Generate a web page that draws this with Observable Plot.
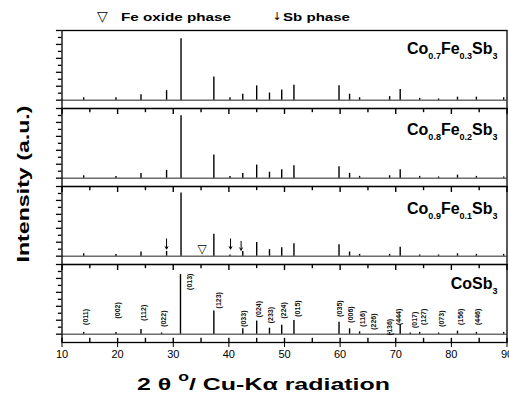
<!DOCTYPE html>
<html><head><meta charset="utf-8">
<script src="https://cdn.jsdelivr.net/npm/d3@7"></script>
<script src="https://cdn.jsdelivr.net/npm/@observablehq/plot@0.6"></script>
<style>
body{margin:0;background:#fff;}
#chart{width:509px;height:403px;overflow:hidden;}
</style></head><body><div id="chart"></div>
<script>
// ---- data ----
const panels = ["Co0.7Fe0.3Sb3", "Co0.8Fe0.2Sb3", "Co0.9Fe0.1Sb3", "CoSb3"];
const panelLabels = ["Co_{0.7}Fe_{0.3}Sb_{3}", "Co_{0.8}Fe_{0.2}Sb_{3}", "Co_{0.9}Fe_{0.1}Sb_{3}", "CoSb_{3}"];
const labelLevel = [77, 73, 71.5, 76];

// doped samples: peak positions (2θ) and relative intensities
const peak2Theta = [13.9,19.7,24.2,28.8,31.4,37.3,40.2,42.5,45.0,47.3,49.5,51.7,59.8,61.7,63.5,68.9,70.8,74.3,77.7,81.1,84.5,89.4];
const intensityCo07 = [4,4,9,16,103,39,4,10,24,12,17,25,24,10,4,6,18,3,2,5,5,4];
const intensityCo08 = [4,3,8,13,105,39,3,8,22,10,14,21,19,8,3,4,14,3,2,5,3,2];
const intensityCo09 = [4,3,7,8,106,37,2,8,23,11,14,21,19,7,3,3,15,2,2,4,3,3];
// CoSb3
const peak2ThetaCoSb3 = [13.9,19.7,24.2,27.9,31.3,37.3,42.5,45.0,47.3,49.5,51.7,59.8,61.7,63.5,68.9,70.8,72.6,74.3,77.7,81.1,84.5,89.4];
const intensityCoSb3 = [3,3,8,2,100,39,9,22,10,15,23,20,9,4,3,16,2,3,2,5,3,3];

// (hkl) labels in the CoSb3 panel
const hklNames = ["(011)","(002)","(112)","(022)","(013)","(123)","(033)","(024)","(233)","(224)","(015)","(035)","(006)","(116)","(226)","(136)","(444)","(017)","(127)","(073)","(156)","(446)"];
const hkl2Theta = [14.2,20.1,24.7,28.3,33.0,38.2,42.6,45.3,47.5,49.9,52.3,59.9,61.9,64.0,66.1,68.9,70.6,73.4,75.0,78.2,81.6,84.7];
const hklLevel = [29,40,36,26,88,57,26,42,32,40,43,43,33,26,21,12,29,24,29,26,29,29];

// secondary phases marked in Co0.9Fe0.1Sb3
const feOxide2Theta = [35.2];
const feOxideLevel = [12];
const sb2Theta = [28.8, 40.3, 42.2];
const sbArrowTop = [29, 29, 25];
const sbArrowTip = [12, 12, 10];

const xTicks = [10,20,30,40,50,60,70,80,90];
const xMinorTicks = [15,25,35,45,55,65,75,85];
const yMajorTicks = [0, 23.4, 46.8, 70.2, 93.6, 117];
const yMinorTicks = [11.7, 35.1, 58.5, 81.9, 105.3];

// ---- table building ----
const intens = [intensityCo07, intensityCo08, intensityCo09];
const peakRows = [];
intens.forEach((arr, i) => arr.forEach((h, j) => peakRows.push({panel: panels[i], x: peak2Theta[j], h})));
intensityCoSb3.forEach((h, j) => peakRows.push({panel: panels[3], x: peak2ThetaCoSb3[j], h}));
const labelRows = panels.map((p, i) => ({panel: p, text: panelLabels[i], y: labelLevel[i]}));
const hklRows = hklNames.map((t, i) => ({panel: panels[3], text: t, x: hkl2Theta[i], y: hklLevel[i]}));
const oxRows = feOxide2Theta.map((x, i) => ({panel: panels[2], x, y: feOxideLevel[i]}));
const sbRows = sb2Theta.map((x, i) => ({panel: panels[2], x, y1: sbArrowTop[i], y2: sbArrowTip[i]}));
const yMin = -14, yMax = 117, xMin = 10, xMax = 90;
const topTickRows = [];
panels.slice(1).forEach(p => {
  xTicks.forEach(x => topTickRows.push({panel: p, x, len: 10}));
  xMinorTicks.forEach(x => topTickRows.push({panel: p, x, len: 7}));
});
const botTickRows = [];
xTicks.forEach(x => botTickRows.push({panel: panels[3], x, len: 7}));
xMinorTicks.forEach(x => botTickRows.push({panel: panels[3], x, len: 7}));
const yTickRows = [];
panels.forEach(p => {
  yMajorTicks.forEach(y => yTickRows.push({panel: p, y, len: 1.0}));
  yMinorTicks.forEach(y => yTickRows.push({panel: p, y, len: 0.65}));
});

const chart = Plot.plot({
  width: 509, height: 403,
  marginTop: 29, marginBottom: 61, marginLeft: 61.5, marginRight: 2.5,
  style: {fontFamily: "Arial, 'Liberation Sans', sans-serif", fontSize: "11px", color: "black", background: "white"},
  x: {domain: [xMin, xMax], ticks: xTicks, tickSize: 5, tickPadding: 3, label: null},
  y: {domain: [yMin, yMax], axis: null},
  fy: {domain: panels, padding: 0, axis: null, label: null},
  marks: [
    Plot.ruleY([0], {stroke: "#222", strokeWidth: 1}),
    Plot.ruleY(yTickRows, {y: "y", x1: xMin, x2: d => xMin - d.len, fy: "panel", stroke: "black", strokeWidth: 1.3}),
    Plot.ruleX(peakRows, {x: "x", y1: 0, y2: "h", fy: "panel", stroke: "black", strokeWidth: 1.4}),
    Plot.ruleX(topTickRows, {x: "x", y1: yMax, y2: d => yMax - d.len, fy: "panel", stroke: "black", strokeWidth: 1.4}),
    Plot.ruleX(botTickRows, {x: "x", y1: yMin, y2: d => yMin + d.len, fy: "panel", stroke: "black", strokeWidth: 1.4}),
    Plot.text(hklRows, {x: "x", y: "y", text: "text", fy: "panel", rotate: -90, fontSize: 7, fontWeight: "bold", fill: "#111", fontFamily: "'Liberation Sans Narrow', 'Liberation Sans', Arial, sans-serif"}),
    Plot.text(labelRows, {x: 88.3, y: "y", text: "text", fy: "panel", textAnchor: "end", lineAnchor: "bottom", fontSize: 16, fontWeight: "bold", fill: "black"}),
    Plot.text(oxRows, {x: "x", y: "y", text: () => "▽", fy: "panel", fontSize: 12, fontWeight: "bold", fill: "black", fontFamily: "DejaVu Sans"}),
    Plot.arrow(sbRows, {x1: "x", x2: "x", y1: "y1", y2: "y2", fy: "panel", stroke: "black", strokeWidth: 1, headLength: 4}),
    Plot.frame({stroke: "black", strokeWidth: 1.3})
  ]
});

const svgns = "http://www.w3.org/2000/svg";
function richText(el, src, big, small, shift) {
  const parts = src.split(/(_\{[^}]*\})/).filter(s => s);
  el.textContent = "";
  let down = false;
  for (const p of parts) {
    const t = document.createElementNS(svgns, "tspan");
    if (p.startsWith("_{")) {
      t.textContent = p.slice(2, -1);
      t.setAttribute("font-size", small);
      if (!down) { t.setAttribute("dy", shift); down = true; }
    } else {
      t.textContent = p;
      t.setAttribute("font-size", big);
      if (down) { t.setAttribute("dy", -shift); down = false; }
    }
    el.appendChild(t);
  }
}
d3.select(chart).selectAll("text").filter(function(){ return this.textContent.includes("_{"); })
  .each(function(){ richText(this, this.textContent, 16, 9, 5); });

const svg = d3.select(chart);
const font = "Arial, 'Liberation Sans', sans-serif";
// legend
svg.append("text").attr("x", 102.5).attr("y", 20.5).attr("text-anchor", "middle")
  .attr("font-family", "DejaVu Sans").attr("font-weight", "bold").attr("font-size", 14).text("▽");
svg.append("text").attr("x", 121).attr("y", 20.5).attr("text-anchor", "start").attr("font-family", font).attr("font-weight", "bold")
  .attr("font-size", 11.5).attr("textLength", 110).attr("lengthAdjust", "spacingAndGlyphs").text("Fe oxide phase");
svg.append("text").attr("x", 277).attr("y", 20).attr("text-anchor", "middle")
  .attr("font-family", "DejaVu Sans").attr("font-size", 11).text("↓");
svg.append("text").attr("x", 283).attr("y", 20.5).attr("text-anchor", "start").attr("font-family", font).attr("font-weight", "bold")
  .attr("font-size", 11.5).attr("textLength", 67).attr("lengthAdjust", "spacingAndGlyphs").text("Sb phase");
// y title
svg.append("text").attr("transform", "translate(29,184) rotate(-90)").attr("text-anchor", "middle")
  .attr("font-family", font).attr("font-weight", "bold").attr("font-size", 17)
  .attr("textLength", 157).attr("lengthAdjust", "spacingAndGlyphs").text("Intensity (a.u.)");
// x title
const xt = svg.append("text").attr("x", 137).attr("y", 390).attr("text-anchor", "start").attr("font-family", font)
  .attr("font-weight", "bold").attr("font-size", 17).attr("textLength", 253).attr("lengthAdjust", "spacingAndGlyphs");
xt.append("tspan").text("2 θ ");
xt.append("tspan").attr("font-size", 12).attr("dy", -9).text("o");
xt.append("tspan").attr("dy", 9).text("/ Cu-Kα radiation");

document.getElementById("chart").appendChild(chart);
</script></body></html>
